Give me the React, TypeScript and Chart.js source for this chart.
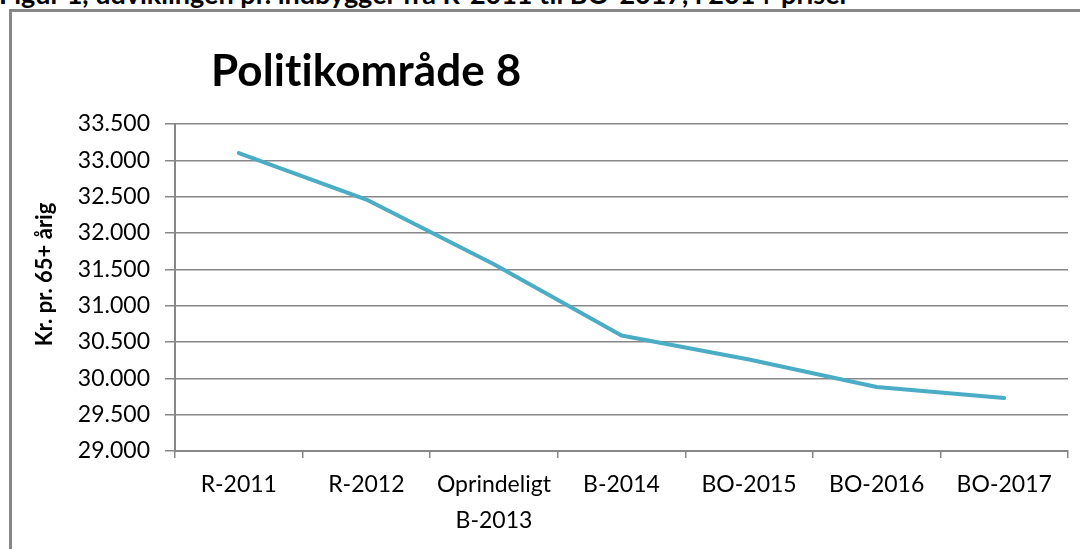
import React, { useEffect, useRef } from "react";
import { Chart, registerables } from "chart.js";

Chart.register(...registerables);

const categories: (string | string[])[] = [
  "R-2011",
  "R-2012",
  ["Oprindeligt", "B-2013"],
  "B-2014",
  "BO-2015",
  "BO-2016",
  "BO-2017",
];
const seriesValues = [33100, 32460, 31570, 30590, 30260, 29880, 29730];
const yMin = 29000;
const yMax = 33500;
const yStep = 500;
const chartTitle = "Politikområde 8";
const yAxisTitle = "Kr. pr. 65+ årig";
const headingText =
  "Figur 1, udviklingen pr. indbygger fra R-2011 til BO-2017, i 2014-priser";

const GRID = "#878787";
const FONT = "Lato, 'Open Sans', sans-serif";

function formatThousands(v: number): string {
  return String(v).replace(/\B(?=(\d{3})+(?!\d))/g, ".");
}

const titlePlugin = {
  id: "customTitle",
  afterDraw(chart: any) {
    const { ctx, chartArea } = chart;
    ctx.save();
    ctx.font = `bold 44px ${FONT}`;
    (ctx as any).letterSpacing = "0.1px";
    ctx.fillStyle = "#000";
    ctx.textAlign = "left";
    ctx.textBaseline = "alphabetic";
    ctx.fillText(chartTitle, chartArea.left + 36, chartArea.top - 38);
    ctx.restore();

    // y axis title
    ctx.save();
    ctx.font = `bold 22px ${FONT}`;
    ctx.fillStyle = "#000";
    ctx.textAlign = "center";
    ctx.textBaseline = "middle";
    const cy = (chartArea.top + chartArea.bottom) / 2 - 13;
    ctx.translate(45, cy);
    ctx.rotate(-Math.PI / 2);
    ctx.fillText(yAxisTitle, 0, 0);
    ctx.restore();
  },
};

export default function App() {
  const ref = useRef<HTMLCanvasElement | null>(null);

  useEffect(() => {
    if (!ref.current) return;
    Chart.defaults.font.family = FONT;
    Chart.defaults.color = "#000";
    const chart = new Chart(ref.current, {
      type: "line",
      data: {
        labels: categories,
        datasets: [
          {
            label: chartTitle,
            data: seriesValues,
            borderColor: "#4BACC6",
            backgroundColor: "#4BACC6",
            borderWidth: 4,
            pointRadius: 0,
            tension: 0,
            borderCapStyle: "round",
            borderJoinStyle: "round",
          },
        ],
      },
      options: {
        animation: false,
        responsive: false,
        layout: { padding: { top: 124, left: 0, right: 12, bottom: 0 } },
        plugins: {
          legend: { display: false },
          title: { display: false },
          tooltip: { enabled: false },
        },
        scales: {
          x: {
            offset: true,
            grid: {
              offset: true,
              drawOnChartArea: false,
              drawTicks: true,
              tickLength: 7,
              color: GRID,
              lineWidth: 1.5,
            },
            border: { display: true, color: GRID, width: 2 },
            ticks: {
              padding: 9,
              maxRotation: 0,
              autoSkip: false,
              font: { size: 23, lineHeight: 1.565 },
              color: "#000",
            },
            afterFit(scale: any) {
              scale.height = 98;
            },
          },
          y: {
            min: yMin,
            max: yMax,
            ticks: {
              stepSize: yStep,
              padding: 15,
              font: { size: 23 },
              color: "#000",
              callback: (v: any) => formatThousands(Number(v)),
            },
            grid: {
              color: GRID,
              lineWidth: 1.5,
              tickLength: 10,
              drawTicks: true,
            },
            border: { display: true, color: GRID, width: 2 },
            title: { display: false, text: yAxisTitle },
            afterFit(scale: any) {
              scale.width = 175;
            },
          },
        },
      },
      plugins: [titlePlugin],
    });
    return () => chart.destroy();
  }, []);

  return (
    <div
      style={{
        position: "absolute",
        left: 0,
        top: 0,
        width: 1080,
        height: 549,
        overflow: "hidden",
        background: "#fff",
      }}
    >
      <div
        style={{
          position: "absolute",
          left: -1,
          top: -20,
          fontFamily: FONT,
          fontWeight: "bold",
          fontSize: 27,
          lineHeight: "27px",
          whiteSpace: "nowrap",
          color: "#000",
        }}
      >
        {headingText}
      </div>
      <div
        style={{
          position: "absolute",
          left: 9,
          top: 9,
          width: 1200,
          height: 700,
          borderLeft: `3px solid ${GRID}`,
          borderTop: `3px solid ${GRID}`,
        }}
      />
      <canvas
        ref={ref}
        width={1080}
        height={549}
        style={{ position: "absolute", left: 0, top: 0, width: 1080, height: 549 }}
      />
    </div>
  );
}
